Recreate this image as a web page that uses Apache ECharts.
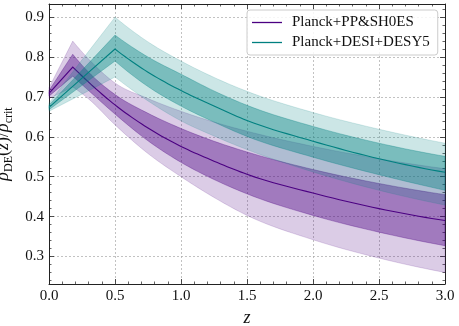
<!DOCTYPE html>
<html>
<head>
<meta charset="utf-8">
<script src="https://cdn.jsdelivr.net/npm/echarts@6/dist/echarts.min.js"></script>
<style>
html,body{margin:0;padding:0;background:#fff;}
#chart{width:459px;height:326px;}
</style>
</head>
<body>
<div id="chart"></div>
<script>
// ---- data ----
const xTicks = [0.0, 0.5, 1.0, 1.5, 2.0, 2.5, 3.0];
const yTicks = [0.3, 0.4, 0.5, 0.6, 0.7, 0.8, 0.9];

const seriesNames = ['Planck+PP&SH0ES', 'Planck+DESI+DESY5'];

// Planck+PP&SH0ES (purple)
const zP   = [0, 0.18, 0.3, 0.5, 0.75, 1.0, 1.25, 1.5, 2.0, 2.5, 3.0];
const pMid = [0.709, 0.775, 0.737, 0.680, 0.622, 0.576, 0.539, 0.506, 0.459, 0.420, 0.390];
const pLo1 = [0.702, 0.752, 0.716, 0.657, 0.590, 0.536, 0.493, 0.457, 0.403, 0.361, 0.327];
const pHi1 = [0.716, 0.807, 0.762, 0.706, 0.659, 0.621, 0.589, 0.562, 0.518, 0.483, 0.455];
const pLo2 = [0.696, 0.725, 0.695, 0.630, 0.558, 0.500, 0.448, 0.403, 0.342, 0.296, 0.260];
const pHi2 = [0.723, 0.840, 0.795, 0.735, 0.696, 0.664, 0.637, 0.614, 0.576, 0.545, 0.520];

// Planck+DESI+DESY5 (teal)
const zT   = [0, 0.25, 0.5, 0.75, 1.0, 1.25, 1.5, 2.0, 2.5, 3.0];
const tMid = [0.674, 0.747, 0.820, 0.762, 0.716, 0.677, 0.641, 0.589, 0.545, 0.511];
const tLo1 = [0.668, 0.729, 0.790, 0.726, 0.677, 0.637, 0.601, 0.549, 0.505, 0.466];
const tHi1 = [0.680, 0.767, 0.855, 0.800, 0.757, 0.715, 0.679, 0.626, 0.584, 0.551];
const tLo2 = [0.664, 0.707, 0.750, 0.690, 0.640, 0.602, 0.568, 0.512, 0.466, 0.429];
const tHi2 = [0.685, 0.793, 0.900, 0.838, 0.790, 0.749, 0.714, 0.661, 0.619, 0.584];

// ---- styling ----
const PURPLE = [75, 0, 130];
const TEAL = [0, 128, 128];
const rgba = (c, a) => `rgba(${c[0]},${c[1]},${c[2]},${a})`;
const FONT = "'Liberation Serif', 'DejaVu Serif', serif";

const argmax = arr => arr.indexOf(Math.max.apply(null, arr));

// x-monotone cubic Hermite smoothing in pixel space (rendering only)
function smoothPts(pts, n) {
  const N = pts.length;
  if (N < 3) return pts.slice();
  const h = [], d = [];
  for (let i = 0; i < N - 1; i++) {
    h.push(pts[i + 1][0] - pts[i][0]);
    d.push((pts[i + 1][1] - pts[i][1]) / h[i]);
  }
  const m = new Array(N);
  for (let i = 1; i < N - 1; i++) m[i] = (h[i] * d[i - 1] + h[i - 1] * d[i]) / (h[i - 1] + h[i]);
  m[0] = 2 * d[0] - m[1];
  m[N - 1] = 2 * d[N - 2] - m[N - 2];
  const out = [pts[0]];
  for (let i = 0; i < N - 1; i++) {
    const p1 = pts[i], p2 = pts[i + 1], hh = h[i];
    const c1 = [p1[0] + hh / 3, p1[1] + m[i] * hh / 3];
    const c2 = [p2[0] - hh / 3, p2[1] - m[i + 1] * hh / 3];
    for (let k = 1; k <= n; k++) {
      const t = k / n, u = 1 - t;
      out.push([
        u*u*u*p1[0] + 3*u*u*t*c1[0] + 3*u*t*t*c2[0] + t*t*t*p2[0],
        u*u*u*p1[1] + 3*u*u*t*c1[1] + 3*u*t*t*c2[1] + t*t*t*p2[1]
      ]);
    }
  }
  return out;
}

// straight rise up to the peak, smooth decline after it
function curvePts(api, zs, vals, peak) {
  const px = zs.map((z, i) => api.coord([z, vals[i]]));
  return px.slice(0, peak).concat(smoothPts(px.slice(peak), 10));
}

function band(name, zs, lo, hi, peak, col, alpha) {
  return {
    type: 'custom',
    name: name,
    coordinateSystem: 'cartesian2d',
    silent: true,
    data: zs.map((z, i) => [z, lo[i], hi[i]]),
    encode: { x: 0, y: [1, 2] },
    renderItem: function (params, api) {
      if (params.dataIndex !== 0) return null;
      const up = curvePts(api, zs, hi, peak);
      const dn = curvePts(api, zs, lo, peak).reverse();
      return {
        type: 'polygon',
        shape: { points: up.concat(dn) },
        style: { fill: rgba(col, alpha), stroke: rgba(col, alpha), lineWidth: 0.8 }
      };
    }
  };
}

function line(name, zs, vals, peak, col) {
  return {
    type: 'custom',
    name: name,
    coordinateSystem: 'cartesian2d',
    silent: true,
    itemStyle: { color: rgba(col, 1) },
    data: zs.map((z, i) => [z, vals[i]]),
    encode: { x: 0, y: 1 },
    renderItem: function (params, api) {
      if (params.dataIndex !== 0) return null;
      return {
        type: 'polyline',
        shape: { points: curvePts(api, zs, vals, peak) },
        style: { fill: null, stroke: rgba(col, 1), lineWidth: 1.1 }
      };
    }
  };
}

const gridLine = { show: true, lineStyle: { color: '#a8a8a8', width: 0.7, type: [2, 2] } };
const axLine = { show: true, onZero: false, lineStyle: { color: '#222', width: 1 } };
const tick = { show: true, inside: true, length: 5, lineStyle: { color: '#222', width: 0.8 } };
const minor = { show: true, splitNumber: 5, length: 2.5, lineStyle: { color: '#222', width: 0.7 } };
const labelStyle = { color: '#111', fontFamily: FONT, fontSize: 15 };

const xBase = { type: 'value', min: xTicks[0], max: xTicks[xTicks.length - 1], interval: 0.5 };
const yBase = { type: 'value', min: 0.231, max: 0.933, splitNumber: 7 };

const option = {
  animation: false,
  backgroundColor: '#fff',
  grid: { left: 49, right: 14, top: 4, bottom: 42, containLabel: false, outerBoundsMode: 'none' },
  legend: {
    data: seriesNames,
    orient: 'vertical',
    left: 247,
    top: 10,
    icon: 'rect',
    itemWidth: 30,
    itemHeight: 1.3,
    itemGap: 5,
    padding: [5, 8, 5, 5],
    backgroundColor: 'rgba(255,255,255,0.85)',
    borderColor: '#cccccc',
    borderWidth: 1,
    borderRadius: 3,
    textStyle: { color: '#111', fontFamily: FONT, fontSize: 15, padding: [0, 0, 0, 5] }
  },
  xAxis: [
    Object.assign({}, xBase, {
      position: 'bottom',
      name: 'z',
      nameLocation: 'middle',
      nameGap: 20,
      nameTextStyle: { fontFamily: FONT, fontSize: 18, fontStyle: 'italic', color: '#111' },
      axisLine: axLine, axisTick: tick, minorTick: minor,
      axisLabel: Object.assign({ margin: 5, formatter: v => v.toFixed(1) }, labelStyle),
      splitLine: gridLine
    }),
    Object.assign({}, xBase, {
      position: 'top',
      axisLine: axLine, axisTick: tick, minorTick: minor,
      axisLabel: { show: false }, splitLine: { show: false }
    })
  ],
  yAxis: [
    Object.assign({}, yBase, {
      position: 'left',
      name: '{r|ρ}{s|DE}{n|(}{i|z}{n|)/}{r|ρ}{s|crit}',
      nameLocation: 'middle',
      nameRotate: 90,
      nameGap: 24,
      nameTextStyle: {
        color: '#111',
        rich: {
          r: { fontFamily: FONT, fontSize: 18, fontStyle: 'italic', lineHeight: 22, verticalAlign: 'middle', color: '#111' },
          i: { fontFamily: FONT, fontSize: 18, fontStyle: 'italic', lineHeight: 22, verticalAlign: 'middle', color: '#111' },
          n: { fontFamily: FONT, fontSize: 18, lineHeight: 22, verticalAlign: 'middle', color: '#111' },
          s: { fontFamily: FONT, fontSize: 12, lineHeight: 12, verticalAlign: 'bottom', color: '#111' }
        }
      },
      axisLine: axLine, axisTick: tick, minorTick: minor,
      axisLabel: Object.assign({ margin: 5, showMinLabel: false, showMaxLabel: false,
        formatter: v => (yTicks.some(t => Math.abs(t - v) < 1e-6) ? v.toFixed(1) : '') }, labelStyle),
      splitLine: gridLine
    }),
    Object.assign({}, yBase, {
      position: 'right',
      axisLine: axLine, axisTick: tick, minorTick: minor,
      axisLabel: { show: false }, splitLine: { show: false }
    })
  ],
  series: [
    band('pp2', zP, pLo2, pHi2, argmax(pMid), PURPLE, 0.2),
    band('pp1', zP, pLo1, pHi1, argmax(pMid), PURPLE, 0.4),
    line(seriesNames[0], zP, pMid, argmax(pMid), PURPLE),
    band('dd2', zT, tLo2, tHi2, argmax(tMid), TEAL, 0.2),
    band('dd1', zT, tLo1, tHi1, argmax(tMid), TEAL, 0.4),
    line(seriesNames[1], zT, tMid, argmax(tMid), TEAL)
  ]
};

const chart = echarts.init(document.getElementById('chart'), null, { renderer: 'canvas' });
chart.setOption(option);
</script>
</body>
</html>
